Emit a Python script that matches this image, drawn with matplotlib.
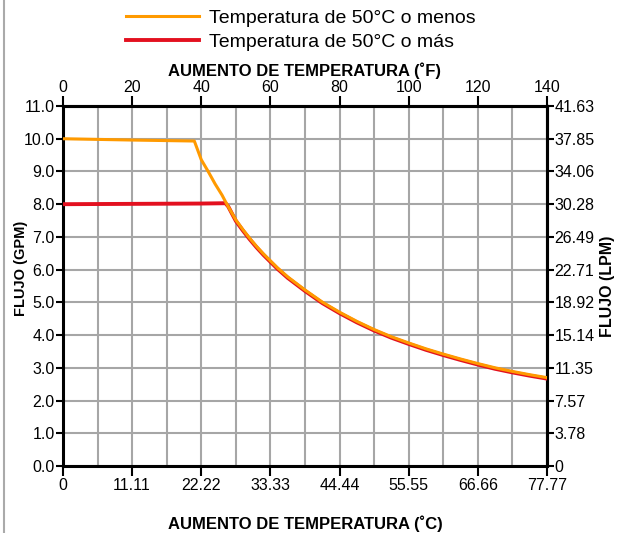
import matplotlib
matplotlib.use('Agg')
import matplotlib.pyplot as plt
from matplotlib.lines import Line2D

plt.rcParams['font.family'] = ['Liberation Sans Narrow', 'Liberation Sans', 'DejaVu Sans']

# temperature rise (F) vs flow (GPM)
menos_f = [0, 20, 38, 40, 42, 44, 46, 47.4, 50, 52, 54, 56, 58, 60, 62, 65, 70, 75, 80, 85, 90, 95, 100,
           105, 110, 115, 120, 125, 130, 135, 140]
menos_gpm = [10.0, 9.96, 9.93, 9.36, 9.0, 8.62, 8.28, 8.0, 7.52, 7.23, 6.96, 6.71, 6.48, 6.27, 6.06, 5.78,
             5.38, 5.01, 4.7, 4.42, 4.17, 3.95, 3.76, 3.58, 3.42, 3.27, 3.13, 3.0, 2.89, 2.79, 2.7]
mas_f = [0, 20, 40, 47.0, 47.8, 50, 52, 54, 56, 58, 60, 62, 65, 70, 75, 80, 85, 90, 95, 100,
         105, 110, 115, 120, 125, 130, 135, 140]
mas_gpm = [8.0, 8.01, 8.02, 8.03, 7.93, 7.49, 7.2, 6.93, 6.68, 6.45, 6.24, 6.03, 5.75,
           5.35, 4.98, 4.67, 4.39, 4.14, 3.92, 3.73, 3.55, 3.39, 3.24, 3.1, 2.97, 2.86, 2.76, 2.67]

f_ticks = [0, 20, 40, 60, 80, 100, 120, 140]
c_labels = ['0', '11.11', '22.22', '33.33', '44.44', '55.55', '66.66', '77.77']
gpm_ticks = list(range(12))
gpm_labels = ['%.1f' % v for v in gpm_ticks]
lpm_labels = ['0', '3.78', '7.57', '11.35', '15.14', '18.92', '22.71', '26.49', '30.28', '34.06', '37.85', '41.63']

fig = plt.figure(figsize=(6.21, 5.33), dpi=100, facecolor='white')
ax = fig.add_axes([0.1014, 0.1257, 0.7794, 0.6754])

ax.plot(mas_f, mas_gpm, color='#e3101f', lw=2.8, label='Temperatura de 50°C o más', zorder=3)
ax.plot(menos_f, menos_gpm, color='#ff9a00', lw=2.2, label='Temperatura de 50°C o menos', zorder=4)

ax.set_xlim(0, 140)
ax.set_ylim(0, 11)
ax.set_xticks(range(0, 141, 10), minor=True)
ax.set_xticks(f_ticks)
ax.set_xticklabels(c_labels)
ax.set_yticks(gpm_ticks)
ax.set_yticklabels(gpm_labels)
ax.grid(True, which='both', color='#a6a6a6', lw=1.5)
ax.set_axisbelow(True)
ax.tick_params(which='minor', length=0)
ax.tick_params(axis='x', which='major', length=7, width=1.5, labelsize=11.5, pad=1.5)
ax.tick_params(axis='y', which='major', length=5, width=1.5, labelsize=11.5, pad=1)
for s in ax.spines.values():
    s.set_linewidth(2.2)

top = ax.secondary_xaxis('top')
top.set_xticks(f_ticks)
top.set_xticklabels([str(v) for v in f_ticks])
top.tick_params(length=7, width=1.5, labelsize=11.5, pad=1)
top.spines['top'].set_linewidth(2.2)
top.set_xlabel('AUMENTO DE TEMPERATURA (˚F)', fontsize=12, fontweight='bold', labelpad=3)

right = ax.secondary_yaxis('right')
right.set_yticks(gpm_ticks)
right.set_yticklabels(lpm_labels)
right.tick_params(length=5, width=1.5, labelsize=11.5, pad=0.5)
right.spines['right'].set_linewidth(2.2)
right.set_ylabel('FLUJO (LPM)', fontsize=11.5, fontweight='bold', labelpad=4)

ax.set_xlabel('AUMENTO DE TEMPERATURA (˚C)', fontsize=12, fontweight='bold', labelpad=16)
ax.set_ylabel('FLUJO (GPM)', fontsize=10.5, fontweight='bold')
ax.yaxis.set_label_coords(-0.072, 0.55)

handles, labels = ax.get_legend_handles_labels()
ax.legend(handles[::-1], labels[::-1], loc='upper left', bbox_to_anchor=(0.203, 0.983),
          bbox_transform=fig.transFigure, frameon=False, fontsize=14,
          handlelength=3.76, handletextpad=0.52, labelspacing=0.36, borderpad=0, borderaxespad=0)

fig.add_artist(Line2D([0.007, 0.007], [0, 1], transform=fig.transFigure, color='#aaaaaa', lw=1.5))

plt.savefig('out.png', dpi=100)
